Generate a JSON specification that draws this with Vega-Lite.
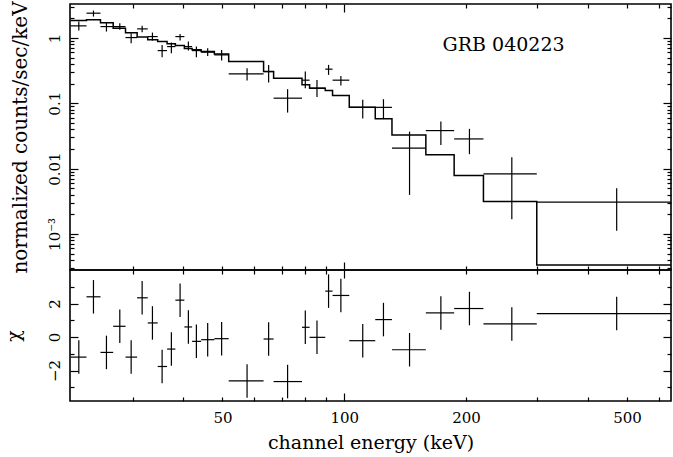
{
  "$schema": "https://vega.github.io/schema/vega-lite/v6.json",
  "padding": {"left": 3, "top": 0, "right": 2, "bottom": 0},
  "spacing": 0,
  "bounds": "flush",
  "config": {
    "view": {"stroke": "black", "strokeWidth": 1.6},
    "axis": {"domain": false, "grid": false, "tickColor": "black", "tickWidth": 1.2, "labelColor": "black", "titleColor": "black", "labelFont": "DejaVu Serif", "titleFont": "DejaVu Serif", "labelFontSize": 15, "titleFontSize": 19, "titleFontWeight": "normal", "labelOverlap": false, "labelFlush": false},
    "text": {"font": "DejaVu Serif"}
  },
  "datasets": {
    "bins": [
      {"lo": 21.06, "hi": 23.07, "e": 22.08, "y": 1.527, "ylo": 1.293, "yhi": 1.776, "r": -1.20, "rlo": -2.20, "rhi": -0.20},
      {"lo": 23.07, "hi": 24.98, "e": 24.0, "y": 2.388, "ylo": 2.118, "yhi": 2.618, "r": 2.40, "rlo": 1.40, "rhi": 3.40},
      {"lo": 24.98, "hi": 26.85, "e": 25.84, "y": 1.489, "ylo": 1.249, "yhi": 1.715, "r": -0.92, "rlo": -1.92, "rhi": 0.08},
      {"lo": 26.85, "hi": 28.80, "e": 27.88, "y": 1.489, "ylo": 1.326, "yhi": 1.679, "r": 0.64, "rlo": -0.36, "rhi": 1.64},
      {"lo": 28.80, "hi": 30.77, "e": 29.74, "y": 1.011, "ylo": 0.830, "yhi": 1.180, "r": -1.20, "rlo": -2.20, "rhi": -0.20},
      {"lo": 30.77, "hi": 32.68, "e": 31.66, "y": 1.373, "ylo": 1.222, "yhi": 1.527, "r": 2.34, "rlo": 1.34, "rhi": 3.34},
      {"lo": 32.68, "hi": 34.59, "e": 33.57, "y": 1.047, "ylo": 0.909, "yhi": 1.205, "r": 0.84, "rlo": -0.16, "rhi": 1.84},
      {"lo": 34.59, "hi": 36.49, "e": 35.47, "y": 0.639, "ylo": 0.507, "yhi": 0.781, "r": -1.76, "rlo": -2.76, "rhi": -0.76},
      {"lo": 36.49, "hi": 38.25, "e": 37.39, "y": 0.736, "ylo": 0.583, "yhi": 0.847, "r": -0.72, "rlo": -1.72, "rhi": 0.28},
      {"lo": 38.25, "hi": 40.26, "e": 39.29, "y": 1.047, "ylo": 0.909, "yhi": 1.151, "r": 2.20, "rlo": 1.20, "rhi": 3.20},
      {"lo": 40.26, "hi": 42.07, "e": 41.19, "y": 0.736, "ylo": 0.639, "yhi": 0.878, "r": 0.60, "rlo": -0.40, "rhi": 1.60},
      {"lo": 42.07, "hi": 44.29, "e": 43.11, "y": 0.639, "ylo": 0.507, "yhi": 0.736, "r": -0.26, "rlo": -1.26, "rhi": 0.74},
      {"lo": 44.29, "hi": 47.75, "e": 45.97, "y": 0.604, "ylo": 0.530, "yhi": 0.696, "r": -0.16, "rlo": -1.16, "rhi": 0.84},
      {"lo": 47.75, "hi": 51.81, "e": 49.77, "y": 0.549, "ylo": 0.449, "yhi": 0.655, "r": -0.10, "rlo": -1.10, "rhi": 0.90},
      {"lo": 51.81, "hi": 63.19, "e": 57.52, "y": 0.281, "ylo": 0.222, "yhi": 0.344, "r": -2.62, "rlo": -3.62, "rhi": -1.62},
      {"lo": 63.19, "hi": 66.90, "e": 65.03, "y": 0.305, "ylo": 0.207, "yhi": 0.386, "r": -0.12, "rlo": -1.12, "rhi": 0.88},
      {"lo": 66.90, "hi": 78.63, "e": 72.44, "y": 0.1194, "ylo": 0.0719, "yhi": 0.164, "r": -2.66, "rlo": -3.66, "rhi": -1.66},
      {"lo": 78.63, "hi": 82.10, "e": 80.12, "y": 0.2252, "ylo": 0.170, "yhi": 0.305, "r": 0.58, "rlo": -0.42, "rhi": 1.58},
      {"lo": 82.10, "hi": 89.76, "e": 85.63, "y": 0.170, "ylo": 0.125, "yhi": 0.2276, "r": -0.02, "rlo": -1.02, "rhi": 0.98},
      {"lo": 89.76, "hi": 93.56, "e": 91.46, "y": 0.332, "ylo": 0.2714, "yhi": 0.386, "r": 2.74, "rlo": 1.74, "rhi": 3.74},
      {"lo": 93.56, "hi": 102.9, "e": 98.1, "y": 0.2252, "ylo": 0.186, "yhi": 0.262, "r": 2.48, "rlo": 1.48, "rhi": 3.48},
      {"lo": 102.9, "hi": 119.3, "e": 111.1, "y": 0.0864, "ylo": 0.0586, "yhi": 0.1125, "r": -0.22, "rlo": -1.22, "rhi": 0.78},
      {"lo": 119.3, "hi": 131.2, "e": 125.0, "y": 0.0864, "ylo": 0.0570, "yhi": 0.1152, "r": 1.04, "rlo": 0.04, "rhi": 2.04},
      {"lo": 131.2, "hi": 159.1, "e": 145.0, "y": 0.0205, "ylo": 0.00395, "yhi": 0.0368, "r": -0.76, "rlo": -1.76, "rhi": 0.24},
      {"lo": 159.1, "hi": 186.9, "e": 173.3, "y": 0.0381, "ylo": 0.0230, "yhi": 0.0523, "r": 1.44, "rlo": 0.44, "rhi": 2.44},
      {"lo": 186.9, "hi": 220.8, "e": 203.9, "y": 0.0284, "ylo": 0.0166, "yhi": 0.0405, "r": 1.70, "rlo": 0.70, "rhi": 2.70},
      {"lo": 220.8, "hi": 299.1, "e": 259.5, "y": 0.00828, "ylo": 0.00168, "yhi": 0.01492, "r": 0.78, "rlo": -0.22, "rhi": 1.78},
      {"lo": 299.1, "hi": 742.8, "e": 471.3, "y": 0.00306, "ylo": 0.00112, "yhi": 0.0050, "r": 1.40, "rlo": 0.40, "rhi": 2.40}
    ],
    "model": [
      {"x": 21.06, "m": 1.84}, {"x": 23.07, "m": 1.886}, {"x": 24.98, "m": 1.70}, {"x": 26.85, "m": 1.40},
      {"x": 28.80, "m": 1.20}, {"x": 30.77, "m": 1.03}, {"x": 32.68, "m": 0.94}, {"x": 34.59, "m": 0.878},
      {"x": 36.49, "m": 0.81}, {"x": 38.25, "m": 0.765}, {"x": 40.26, "m": 0.69}, {"x": 42.07, "m": 0.66},
      {"x": 44.29, "m": 0.617}, {"x": 47.75, "m": 0.565}, {"x": 51.81, "m": 0.434}, {"x": 63.19, "m": 0.305},
      {"x": 66.90, "m": 0.2416}, {"x": 78.63, "m": 0.191}, {"x": 82.10, "m": 0.170}, {"x": 89.76, "m": 0.156},
      {"x": 93.56, "m": 0.1308}, {"x": 102.9, "m": 0.087}, {"x": 119.3, "m": 0.0576}, {"x": 131.2, "m": 0.0327},
      {"x": 159.1, "m": 0.0162}, {"x": 186.9, "m": 0.0078}, {"x": 220.8, "m": 0.00312}, {"x": 299.1, "m": 0.000335},
      {"x": 742.8, "m": 0.000335}
    ],
    "label": [{"x": 175, "y": 0.78, "text": "GRB 040223"}]
  },
  "vconcat": [
    {
      "width": 601,
      "height": 266,
      "layer": [
        {
          "data": {"name": "bins"},
          "mark": {"type": "rule", "color": "black", "strokeWidth": 1.2, "clip": true},
          "encoding": {
            "x": {"field": "lo", "type": "quantitative", "scale": {"type": "log", "domain": [21, 642], "nice": false},
                  "axis": {"orient": "bottom", "values": [100], "tickSize": -8, "labels": false, "title": null}},
            "x2": {"field": "hi"},
            "y": {"field": "y", "type": "quantitative", "scale": {"type": "log", "domain": [0.00028, 3.3], "nice": false},
                  "axis": {"orient": "left", "values": [0.001, 0.01, 0.1, 1], "tickSize": -8, "labelAngle": 270, "labelAlign": "center", "labelBaseline": "bottom", "labelPadding": 16,
                           "labelExpr": "datum.value >= 0.5 ? '1' : datum.value >= 0.05 ? '0.1' : datum.value >= 0.005 ? '0.01' : '10⁻³'",
                           "title": "normalized counts/sec/keV", "titleFontSize": 20, "titlePadding": 17}}
          }
        },
        {
          "data": {"name": "bins"},
          "mark": {"type": "rule", "color": "black", "strokeWidth": 1.2, "clip": true},
          "encoding": {
            "x": {"field": "e", "type": "quantitative", "scale": {"type": "log", "domain": [21, 642], "nice": false},
                  "axis": {"orient": "bottom", "values": [30, 40, 50, 60, 70, 80, 90, 200, 300, 400, 500, 600], "tickSize": -4, "labels": false, "title": null}},
            "y": {"field": "ylo", "type": "quantitative", "scale": {"type": "log", "domain": [0.00028, 3.3], "nice": false},
                  "axis": {"orient": "left", "values": [0.0003, 0.0004, 0.0005, 0.0006, 0.0007, 0.0008, 0.0009, 0.002, 0.003, 0.004, 0.005, 0.006, 0.007, 0.008, 0.009, 0.02, 0.03, 0.04, 0.05, 0.06, 0.07, 0.08, 0.09, 0.2, 0.3, 0.4, 0.5, 0.6, 0.7, 0.8, 0.9, 2, 3], "tickSize": -4, "labels": false, "title": null}},
            "y2": {"field": "yhi"}
          }
        },
        {
          "data": {"name": "model"},
          "mark": {"type": "line", "color": "black", "strokeWidth": 1.5, "interpolate": "step-after", "clip": true},
          "encoding": {
            "x": {"field": "x", "type": "quantitative", "scale": {"type": "log", "domain": [21, 642], "nice": false},
                  "axis": {"orient": "top", "values": [100], "tickSize": -8, "labels": false, "title": null}},
            "y": {"field": "m", "type": "quantitative", "scale": {"type": "log", "domain": [0.00028, 3.3], "nice": false},
                  "axis": {"orient": "right", "values": [0.001, 0.01, 0.1, 1], "tickSize": -8, "labels": false, "title": null}}
          }
        },
        {
          "data": {"name": "label"},
          "mark": {"type": "text", "align": "left", "baseline": "middle", "fontSize": 19, "color": "black"},
          "encoding": {
            "x": {"field": "x", "type": "quantitative", "scale": {"type": "log", "domain": [21, 642], "nice": false},
                  "axis": {"orient": "top", "values": [30, 40, 50, 60, 70, 80, 90, 200, 300, 400, 500, 600], "tickSize": -4, "labels": false, "title": null}},
            "y": {"field": "y", "type": "quantitative", "scale": {"type": "log", "domain": [0.00028, 3.3], "nice": false},
                  "axis": {"orient": "right", "values": [0.0003, 0.0004, 0.0005, 0.0006, 0.0007, 0.0008, 0.0009, 0.002, 0.003, 0.004, 0.005, 0.006, 0.007, 0.008, 0.009, 0.02, 0.03, 0.04, 0.05, 0.06, 0.07, 0.08, 0.09, 0.2, 0.3, 0.4, 0.5, 0.6, 0.7, 0.8, 0.9, 2, 3], "tickSize": -4, "labels": false, "title": null}},
            "text": {"field": "text"}
          }
        }
      ],
      "resolve": {"axis": {"x": "independent", "y": "independent"}}
    },
    {
      "width": 601,
      "height": 131,
      "layer": [
        {
          "data": {"name": "bins"},
          "mark": {"type": "rule", "color": "black", "strokeWidth": 1.2, "clip": true},
          "encoding": {
            "x": {"field": "lo", "type": "quantitative", "scale": {"type": "log", "domain": [21, 642], "nice": false},
                  "axis": {"orient": "bottom", "values": [100], "tickSize": -8, "labelPadding": 17, "title": "channel energy (keV)", "titlePadding": 8}},
            "x2": {"field": "hi"},
            "y": {"field": "r", "type": "quantitative", "scale": {"domain": [-3.82, 4.0], "nice": false, "zero": false},
                  "axis": {"orient": "left", "values": [-2, 0, 2], "tickSize": -8, "labelAngle": 270, "labelAlign": "center", "labelBaseline": "bottom", "labelPadding": 16, "title": "χ", "titlePadding": 24}}
          }
        },
        {
          "data": {"name": "bins"},
          "mark": {"type": "rule", "color": "black", "strokeWidth": 1.2, "clip": true},
          "encoding": {
            "x": {"field": "e", "type": "quantitative", "scale": {"type": "log", "domain": [21, 642], "nice": false},
                  "axis": {"orient": "bottom", "values": [30, 40, 50, 60, 70, 80, 90, 200, 300, 400, 500, 600], "tickSize": -4, "labelPadding": 13,
                           "labelExpr": "datum.value == 50 ? '50' : datum.value == 200 ? '200' : datum.value == 500 ? '500' : ''", "title": null}},
            "y": {"field": "rlo", "type": "quantitative", "scale": {"domain": [-3.82, 4.0], "nice": false, "zero": false},
                  "axis": {"orient": "left", "values": [-3, -1, 1, 3], "tickSize": -4, "labels": false, "title": null}},
            "y2": {"field": "rhi"}
          }
        },
        {
          "mark": {"type": "rule", "color": "black", "strokeWidth": 1.2, "strokeDash": [5, 4]},
          "encoding": {
            "y": {"datum": 0, "type": "quantitative", "scale": {"domain": [-3.82, 4.0], "nice": false, "zero": false},
                  "axis": {"orient": "right", "values": [-2, 0, 2], "tickSize": -8, "labels": false, "title": null}}
          }
        },
        {
          "data": {"name": "bins"},
          "mark": {"type": "point", "opacity": 0},
          "encoding": {
            "x": {"field": "e", "type": "quantitative", "scale": {"type": "log", "domain": [21, 642], "nice": false},
                  "axis": {"orient": "top", "values": [100], "tickSize": -8, "labels": false, "title": null}},
            "y": {"field": "r", "type": "quantitative", "scale": {"domain": [-3.82, 4.0], "nice": false, "zero": false},
                  "axis": {"orient": "right", "values": [-3, -1, 1, 3], "tickSize": -4, "labels": false, "title": null}}
          }
        },
        {
          "data": {"name": "bins"},
          "mark": {"type": "point", "opacity": 0},
          "encoding": {
            "x": {"field": "e", "type": "quantitative", "scale": {"type": "log", "domain": [21, 642], "nice": false},
                  "axis": {"orient": "top", "values": [30, 40, 50, 60, 70, 80, 90, 200, 300, 400, 500, 600], "tickSize": -4, "labels": false, "title": null}},
            "y": {"field": "r", "type": "quantitative", "scale": {"domain": [-3.82, 4.0], "nice": false, "zero": false}, "axis": null}
          }
        }
      ],
      "resolve": {"axis": {"x": "independent", "y": "independent"}}
    }
  ]
}
